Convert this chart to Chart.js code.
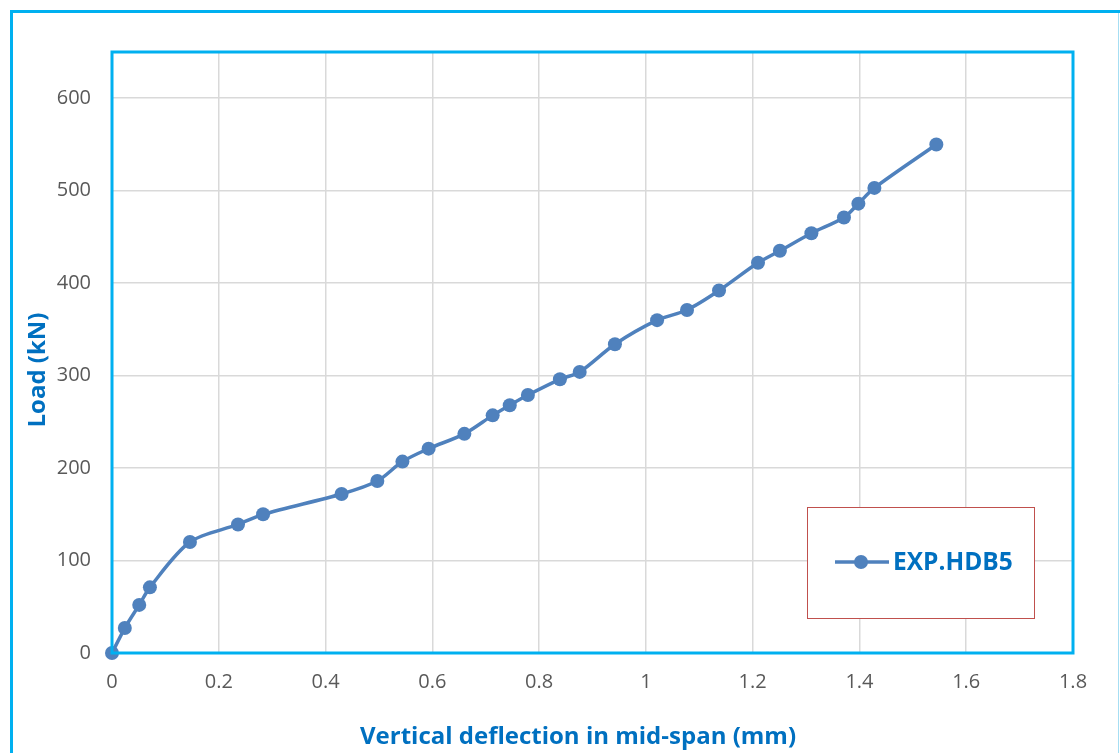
<!DOCTYPE html>
<html>
<head>
<meta charset="utf-8">
<script src="https://cdn.jsdelivr.net/npm/chart.js@4"></script>
<style>
  html, body { margin: 0; padding: 0; background: #fff; }
  canvas { display: block; }
</style>
</head>
<body>
<canvas id="chart" width="1120" height="753"></canvas>
<script>
const seriesName = 'EXP.HDB5';
const deflection = [0, 0.024, 0.051, 0.071, 0.146, 0.236, 0.283, 0.430, 0.497, 0.544, 0.593, 0.660, 0.713, 0.745, 0.779, 0.839, 0.876, 0.942, 1.021, 1.077, 1.137, 1.210, 1.251, 1.310, 1.371, 1.398, 1.428, 1.544];
const load = [0, 27, 52, 71, 120, 139, 150, 172, 186, 207, 221, 237, 257, 268, 279, 296, 304, 334, 360, 371, 392, 422, 435, 454, 471, 486, 503, 550];
const xTitle = 'Vertical deflection in mid-span (mm)';
const yTitle = 'Load (kN)';

const fontFamily = '"Open Sans", sans-serif';
const tickFont = { family: fontFamily, size: 20 };
const titleColor = '#0070c0';
const lineColor = '#4f81bd';

// frame, plot border, titles and the boxed legend
const decorations = {
    id: 'decorations',
    afterDraw(chart) {
        const { ctx, chartArea: a } = chart;
        ctx.save();
        // outer frame
        ctx.strokeStyle = '#00b0f0';
        ctx.lineWidth = 3;
        ctx.beginPath();
        ctx.moveTo(11.5, 760);
        ctx.lineTo(11.5, 11.5);
        ctx.lineTo(1125, 11.5);
        ctx.stroke();
        ctx.strokeStyle = '#a6def3';
        ctx.lineWidth = 1;
        ctx.beginPath();
        ctx.moveTo(1118.5, 13);
        ctx.lineTo(1118.5, 760);
        ctx.stroke();

        // plot area border
        ctx.strokeStyle = '#00b0f0';
        ctx.lineWidth = 3;
        ctx.strokeRect(a.left, a.top, a.right - a.left, a.bottom - a.top);

        // axis titles
        ctx.fillStyle = titleColor;
        ctx.font = 'bold 24px ' + fontFamily;
        ctx.textAlign = 'center';
        ctx.textBaseline = 'middle';
        ctx.fillText(xTitle, 578, 737);
        ctx.translate(38, 370);
        ctx.rotate(-Math.PI / 2);
        ctx.font = 'bold 24px ' + fontFamily;
        ctx.fillText(yTitle, 0, 0);
        ctx.restore();

        // legend box
        ctx.save();
        const ds = chart.data.datasets[0];
        ctx.fillStyle = '#fff';
        ctx.fillRect(807, 507, 228, 112);
        ctx.strokeStyle = '#c0504d';
        ctx.lineWidth = 1;
        ctx.strokeRect(807.5, 507.5, 227, 111);
        ctx.strokeStyle = lineColor;
        ctx.lineWidth = 3.5;
        ctx.beginPath();
        ctx.moveTo(835, 562);
        ctx.lineTo(889, 562);
        ctx.stroke();
        ctx.fillStyle = lineColor;
        ctx.beginPath();
        ctx.arc(861, 562, 7, 0, Math.PI * 2);
        ctx.fill();
        ctx.fillStyle = titleColor;
        ctx.font = 'bold 24.5px ' + fontFamily;
        ctx.textAlign = 'left';
        ctx.textBaseline = 'middle';
        ctx.fillText(ds.label, 893, 563);
        ctx.restore();
    }
};

new Chart(document.getElementById('chart'), {
    type: 'line',
    data: {
        datasets: [{
            label: seriesName,
            data: deflection.map((x, i) => ({ x, y: load[i] })),
            borderColor: lineColor,
            backgroundColor: lineColor,
            borderWidth: 3.5,
            pointRadius: 7,
            pointBorderWidth: 0,
            tension: 0.3,
            clip: false
        }]
    },
    options: {
        responsive: false,
        animation: false,
        layout: { padding: { left: 0, top: 52, right: 47, bottom: 0 } },
        plugins: { legend: { display: false }, tooltip: { enabled: false } },
        scales: {
            x: {
                type: 'linear',
                min: 0,
                max: 1.8,
                ticks: {
                    stepSize: 0.2,
                    font: tickFont,
                    color: '#595959',
                    padding: 17,
                    callback: v => Math.round(v * 10) / 10
                },
                grid: { color: '#d9d9d9', lineWidth: 1.5, drawTicks: false },
                border: { display: false },
                afterFit: s => { s.height = 100; }
            },
            y: {
                min: 0,
                max: 650,
                ticks: { stepSize: 100, font: tickFont, color: '#595959', padding: 21 },
                afterBuildTicks: s => { s.ticks = s.ticks.filter(t => t.value % 100 === 0); },
                grid: { color: '#d9d9d9', lineWidth: 1.5, drawTicks: false },
                border: { display: false },
                afterFit: s => { s.width = 112; }
            }
        }
    },
    plugins: [decorations]
});
</script>
</body>
</html>
